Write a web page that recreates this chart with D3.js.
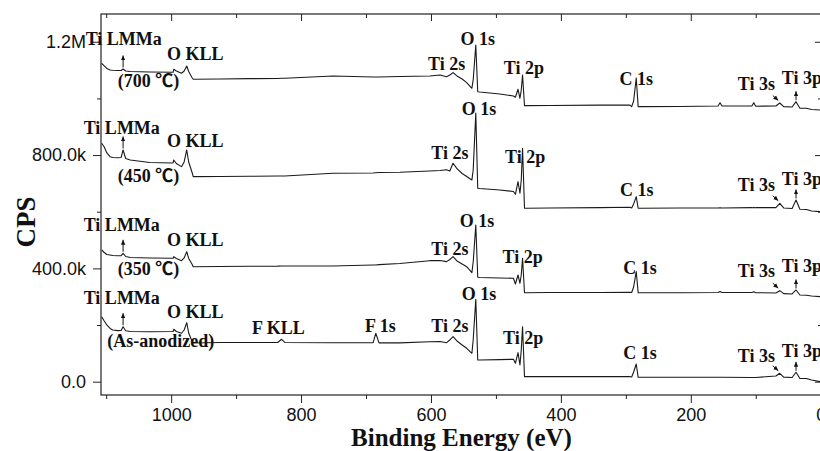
<!DOCTYPE html>
<html>
<head>
<meta charset="utf-8">
<script src="https://cdn.jsdelivr.net/npm/d3@7/dist/d3.min.js"></script>
<style>
  body { margin: 0; background: #fff; }
  svg { display: block; }
</style>
</head>
<body>
<svg id="chart" width="820" height="451"></svg>
<script>
// Binding energy grid (eV) shared by the four survey spectra
const energy = [1107,1103,1099,1094,1090,1082,1077,1074,1070,1063,
  1033,997,996,992,984,980,976,973,968,966,
  925,879,836,830,825,751,689,685,680,648,
  602,586,576,571,566,560,552,545,537,535,
  531,528,525,494,473,470,466,463,461,459,
  456,454,417,340,294,291,288,284,281,278,
  217,158,155,152,106,103,100,69,63,57,
  44,38,32,22,14,1];

// Intensities in kCPS (spectra are stacked with vertical offsets)
const cpsAsAnodized = [229.5,214.3,200.2,187.8,182.5,180.1,180.8,194.2,180.0,177.2,
  176.5,177.2,185.0,177.2,170.9,182.5,208.3,171.9,143.7,136.6,
  138.4,138.4,138.4,149.7,138.4,137.7,137.7,170.9,137.0,137.0,
  141.2,141.9,137.7,147.2,158.9,143.7,129.6,117.9,100.3,147.2,
  290.9,76.6,76.6,78.0,79.1,65.0,102.4,59.0,111.9,194.2,
  17.7,17.7,17.7,17.7,18.4,16.6,34.2,62.5,15.5,15.5,
  15.5,15.5,15.5,15.5,14.8,14.8,14.8,20.1,29.7,16.0,
  14.8,33.2,11.3,11.3,6.0,0.0];

const cps350 = [465.0,456.1,449.1,447.3,445.5,444.8,444.8,453.3,442.0,438.5,
  436.7,435.7,441.3,435.0,427.2,436.7,459.0,435.0,415.5,406.0,
  406.7,407.4,407.8,408.5,408.5,408.5,412.0,412.0,413.1,417.3,
  427.2,427.9,423.7,431.4,441.3,426.1,415.5,406.0,384.8,422.6,
  553.2,368.6,367.9,366.1,365.1,344.9,376.7,347.4,376.7,435.7,
  314.2,314.2,314.9,314.9,315.6,314.9,334.3,388.4,314.2,314.2,
  314.2,314.9,318.5,314.9,314.9,317.7,314.2,313.2,321.3,310.7,
  309.6,323.8,306.1,305.4,302.6,300.1];

const cps450 = [841.7,828.6,807.4,794.4,791.5,790.8,791.5,818.0,788.0,782.7,
  773.9,772.1,782.7,770.4,759.1,775.6,818.0,775.6,740.3,723.8,
  724.5,725.2,726.2,726.2,726.2,735.8,736.8,737.5,738.2,739.3,
  743.9,745.6,748.0,744.0,771.1,752.0,735.0,724.5,712.1,747.4,
  948.6,682.8,682.1,676.8,671.5,661.6,706.1,665.1,712.1,824.0,
  612.2,612.2,613.3,614.3,615.7,613.3,627.4,653.1,612.2,612.2,
  613.3,613.3,614.3,613.3,614.3,615.0,614.3,614.3,629.8,613.3,
  611.5,641.5,608.7,607.9,602.7,600.2];

const cps700 = [1124.1,1114.6,1105.8,1100.5,1099.4,1098.7,1098.7,1104.0,1096.9,1095.2,
  1093.4,1092.3,1102.9,1096.9,1088.8,1096.9,1114.6,1095.2,1074.0,1067.6,
  1068.7,1069.7,1070.4,1071.2,1071.2,1079.3,1075.7,1075.7,1075.7,1077.5,
  1079.3,1082.8,1076.8,1082.8,1090.9,1079.3,1068.7,1055.6,1035.8,1065.2,
  1188.7,1023.8,1022.8,1015.7,1008.7,1004.1,1032.3,1000.5,1029.8,1082.8,
  974.4,974.4,975.1,976.2,976.9,970.9,991.0,1072.2,970.9,970.9,
  971.6,973.4,985.0,973.4,973.4,985.0,972.3,973.4,983.9,970.9,
  969.8,988.5,965.2,965.2,961.0,959.2];

const spectra = [cpsAsAnodized, cps350, cps450, cps700];

const xMajorTicks = [1000, 800, 600, 400, 200, 0];
const xMinorTicks = [1100, 900, 700, 500, 300, 100];
const yMajorTicks = [0, 400, 800, 1200];
const yMinorTicks = [200, 600, 1000];

// Peak annotations: text, binding energy (eV), baseline level (kCPS), anchor
const peakLabels = [
  ["Ti LMMa", 1073, 1188.7, "middle"], ["O KLL", 963, 1135.8, "middle"],
  ["(700 \u2103)", 1035, 1040.4, "middle"], ["O 1s", 528, 1188.7, "middle"],
  ["Ti 2s", 576, 1100.5, "middle"], ["Ti 2p", 457, 1086.3, "middle"],
  ["C 1s", 284, 1047.5, "middle"], ["Ti 3s", 99, 1029.8, "middle"],
  ["Ti 3p", 60, 1051.0, "start"],

  ["Ti LMMa", 1076, 874.5, "middle"], ["O KLL", 963, 828.6, "middle"],
  ["(450 \u2103)", 1035, 705.0, "middle"], ["O 1s", 526, 941.6, "middle"],
  ["Ti 2s", 571, 784.5, "middle"], ["Ti 2p", 455, 770.4, "middle"],
  ["C 1s", 283, 655.6, "middle"], ["Ti 3s", 99, 673.3, "middle"],
  ["Ti 3p", 60, 694.4, "start"],

  ["Ti LMMa", 1076, 532.0, "middle"], ["O KLL", 963, 479.1, "middle"],
  ["(350 \u2103)", 1035, 376.7, "middle"], ["O 1s", 529, 546.2, "middle"],
  ["Ti 2s", 571, 447.3, "middle"], ["Ti 2p", 459, 419.1, "middle"],
  ["C 1s", 278, 380.2, "middle"], ["Ti 3s", 99, 367.9, "middle"],
  ["Ti 3p", 60, 387.3, "start"],

  ["Ti LMMa", 1076, 272.6, "middle"], ["O KLL", 963, 223.1, "middle"],
  ["(As-anodized)", 1016, 122.5, "middle"], ["F KLL", 835, 166.6, "middle"],
  ["F 1s", 678, 173.7, "middle"], ["Ti 2s", 571, 173.7, "middle"],
  ["O 1s", 526, 288.4, "middle"], ["Ti 2p", 458, 133.1, "middle"],
  ["C 1s", 278, 80.1, "middle"], ["Ti 3s", 99, 67.8, "middle"],
  ["Ti 3p", 60, 87.2, "start"]
];

// Arrowed peaks: Ti LMM, Ti 3p (vertical) and Ti 3s (diagonal)
const arrowPeaks = [[1074, "up", 12], [38, "up", 9], [63, "diag", 0]];

const svg = d3.select("#chart");
const x = d3.scaleLinear().domain([1108, -2]).range([101, 822]);
const y = d3.scaleLinear().domain([-47, 1298]).range([395, 14]);

const tickFont = "'Liberation Sans', Arial, sans-serif";
const labelFont = "'Liberation Serif', 'Times New Roman', 'Noto Sans CJK SC', serif";
const ink = "#111";

function fmtY(v) {
  if (v === 0) return "0.0";
  if (v >= 1000) return (v / 1000).toFixed(1) + "M";
  return v.toFixed(1) + "k";
}

function styleAxis(g) {
  g.select(".domain").remove();
  g.selectAll(".tick line").attr("stroke", "#222").attr("stroke-width", 1);
  g.selectAll(".tick text").attr("fill", ink)
    .style("font-family", tickFont).style("font-size", "18px");
}

// Bottom axis
svg.append("g").attr("transform", "translate(0,395)")
  .call(d3.axisBottom(x).tickValues(xMajorTicks).tickSize(8).tickPadding(5)
    .tickFormat(d3.format("d")))
  .call(styleAxis);
svg.append("g").attr("transform", "translate(0,395)")
  .call(d3.axisBottom(x).tickValues(xMinorTicks).tickSize(4).tickFormat(""))
  .call(styleAxis);

// Top axis (ticks inward)
svg.append("g").attr("transform", "translate(0,14)")
  .call(d3.axisTop(x).tickValues(xMajorTicks).tickSize(-7).tickFormat(""))
  .call(styleAxis);
svg.append("g").attr("transform", "translate(0,14)")
  .call(d3.axisTop(x).tickValues(xMinorTicks).tickSize(-4).tickFormat(""))
  .call(styleAxis);

// Left axis
svg.append("g").attr("transform", "translate(101,0)")
  .call(d3.axisLeft(y).tickValues(yMajorTicks).tickSize(8).tickPadding(7)
    .tickFormat(fmtY))
  .call(styleAxis);
svg.append("g").attr("transform", "translate(101,0)")
  .call(d3.axisLeft(y).tickValues(yMinorTicks).tickSize(4).tickFormat(""))
  .call(styleAxis);

// Right axis (ticks inward)
svg.append("g").attr("transform", "translate(822,0)")
  .call(d3.axisRight(y).tickValues(yMajorTicks).tickSize(-7).tickFormat(""))
  .call(styleAxis);
svg.append("g").attr("transform", "translate(822,0)")
  .call(d3.axisRight(y).tickValues(yMinorTicks).tickSize(-4).tickFormat(""))
  .call(styleAxis);

// Frame
svg.append("rect")
  .attr("x", x.range()[0]).attr("y", y.range()[1])
  .attr("width", x.range()[1] - x.range()[0])
  .attr("height", y.range()[0] - y.range()[1])
  .attr("fill", "none").attr("stroke", "#222").attr("stroke-width", 1.2);

// Spectra
svg.append("clipPath").attr("id", "plot-clip").append("rect")
  .attr("x", x.range()[0]).attr("y", y.range()[1])
  .attr("width", x.range()[1] - x.range()[0])
  .attr("height", y.range()[0] - y.range()[1]);

const line = d3.line()
  .x((d, i) => x(energy[i]))
  .y(d => y(d));

svg.append("g").attr("clip-path", "url(#plot-clip)")
  .selectAll("path.spectrum")
  .data(spectra)
  .join("path")
  .attr("class", "spectrum")
  .attr("d", line)
  .attr("fill", "none")
  .attr("stroke", "#1a1a1a")
  .attr("stroke-width", 1.1)
  .attr("stroke-linejoin", "round");

// Arrowhead marker
svg.append("defs").append("marker")
  .attr("id", "head")
  .attr("viewBox", "0 0 10 10")
  .attr("refX", 10).attr("refY", 5)
  .attr("markerUnits", "userSpaceOnUse")
  .attr("markerWidth", 5).attr("markerHeight", 5)
  .attr("orient", "auto")
  .append("path").attr("d", "M0,0.5 L10,5 L0,9.5 z").attr("fill", ink);

const arrows = [];
spectra.forEach(vals => {
  arrowPeaks.forEach(([e, kind, len]) => {
    const px = x(e);
    const py = y(vals[energy.indexOf(e)]);
    if (kind === "up") {
      arrows.push({x1: px, y1: py - 1.5, x2: px, y2: py - 1.5 - len});
    } else {
      arrows.push({x1: px - 7, y1: py - 7.5, x2: px - 1.5, y2: py - 2.5});
    }
  });
});

svg.append("g").selectAll("line")
  .data(arrows)
  .join("line")
  .attr("x1", d => d.x1).attr("y1", d => d.y1)
  .attr("x2", d => d.x2).attr("y2", d => d.y2)
  .attr("stroke", ink).attr("stroke-width", 1)
  .attr("marker-end", "url(#head)");

// Peak labels
svg.append("g").selectAll("text")
  .data(peakLabels)
  .join("text")
  .attr("x", d => x(d[1]))
  .attr("y", d => y(d[2]))
  .attr("text-anchor", d => d[3])
  .attr("fill", ink)
  .style("font-family", labelFont)
  .style("font-weight", "bold")
  .style("font-size", "18px")
  .text(d => d[0]);

// Axis titles
svg.append("text")
  .attr("x", (x.range()[0] + x.range()[1]) / 2)
  .attr("y", 446)
  .attr("text-anchor", "middle")
  .attr("fill", ink)
  .style("font-family", labelFont)
  .style("font-weight", "bold")
  .style("font-size", "25px")
  .text("Binding Energy (eV)");

svg.append("text")
  .attr("transform", "translate(35,222) rotate(-90)")
  .attr("text-anchor", "middle")
  .attr("fill", ink)
  .style("font-family", labelFont)
  .style("font-weight", "bold")
  .style("font-size", "27px")
  .text("CPS");
</script>
</body>
</html>
